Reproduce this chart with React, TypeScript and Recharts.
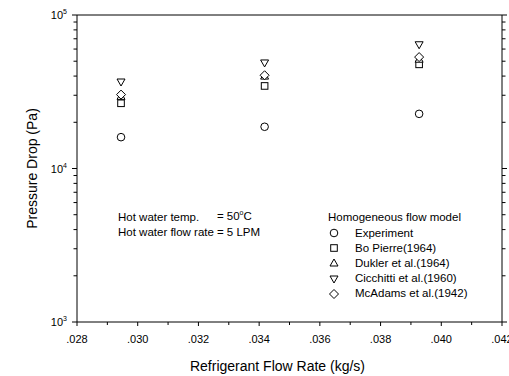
import React from 'react';
import { ScatterChart, Scatter, XAxis, YAxis, Legend, Label } from 'recharts';

const FONT = '"Liberation Sans", Arial, sans-serif';

// refrigerant flow rate (kg/s) and pressure drop (Pa) for each model
const flowRates = [0.02945, 0.03418, 0.03927];
const experiment = [16000, 18700, 22700];
const boPierre = [26600, 34500, 47700];
const dukler = [29500, 40000, 51500];
const cicchitti = [36600, 48700, 64000];
const mcAdams = [30300, 40500, 53200];

const seriesNames = ['Experiment', 'Bo Pierre(1964)', 'Dukler et al.(1964)', 'Cicchitti et al.(1960)', 'McAdams et al.(1942)'];
const markerKinds = ['circle', 'square', 'triangleUp', 'triangleDown', 'diamond'];

const xTicks = [0.028, 0.029, 0.03, 0.031, 0.032, 0.033, 0.034, 0.035, 0.036, 0.037, 0.038, 0.039, 0.04, 0.041, 0.042];
const yTicks = [1000, 2000, 3000, 4000, 5000, 6000, 7000, 8000, 9000, 10000, 20000, 30000, 40000, 50000, 60000, 70000, 80000, 90000, 100000];

const allSeries = [experiment, boPierre, dukler, cicchitti, mcAdams];
const toPoints = (vals: number[]) => flowRates.map((x, i) => ({ x, y: vals[i] }));

const marker = (kind: string, cx: number, cy: number) => {
    const common = { fill: '#fff', stroke: '#000', strokeWidth: 1 };
    switch (kind) {
        case 'circle':
            return <circle cx={cx} cy={cy} r={3.8} {...common} />;
        case 'square':
            return <rect x={cx - 3.3} y={cy - 3.3} width={6.6} height={6.6} {...common} />;
        case 'triangleUp':
            return <polygon points={`${cx},${cy - 4} ${cx + 4},${cy + 3} ${cx - 4},${cy + 3}`} {...common} />;
        case 'triangleDown':
            return <polygon points={`${cx - 4},${cy - 3} ${cx + 4},${cy - 3} ${cx},${cy + 4}`} {...common} />;
        default:
            return <polygon points={`${cx},${cy - 4.5} ${cx + 4.5},${cy} ${cx},${cy + 4.5} ${cx - 4.5},${cy}`} {...common} />;
    }
};

const isMajorX = (v: number) => Math.round(v * 1000) % 2 === 0;
const isMajorY = (v: number) => Math.abs(Math.log10(v) - Math.round(Math.log10(v))) < 1e-6;

const BottomTick = (props: any) => {
    const { x, y, payload } = props;
    const major = isMajorX(payload.value);
    return (
        <g>
            <line x1={x} y1={y} x2={x} y2={y + (major ? 4 : 3)} stroke="#000" />
            {major && (
                <text x={x} y={y + 20.5} textAnchor="middle" fontSize={11} fontFamily={FONT} fill="#000">
                    {payload.value.toFixed(3).replace(/^0/, '')}
                </text>
            )}
        </g>
    );
};

const TopTick = (props: any) => {
    const { x, y, payload } = props;
    const major = isMajorX(payload.value);
    return <line x1={x} y1={y} x2={x} y2={y - (major ? 4 : 3)} stroke="#000" />;
};

const LeftTick = (props: any) => {
    const { x, y, payload } = props;
    const major = isMajorY(payload.value);
    const exp = Math.round(Math.log10(payload.value));
    return (
        <g>
            <line x1={x - (major ? 5 : 3.5)} y1={y} x2={x} y2={y} stroke="#000" />
            {major && (
                <text x={x - 10} y={y + 4} textAnchor="end" fontSize={11} fontFamily={FONT} fill="#000">
                    10<tspan fontSize={7} dy={-5}>{exp}</tspan>
                </text>
            )}
        </g>
    );
};

const RightTick = (props: any) => {
    const { x, y, payload } = props;
    const major = isMajorY(payload.value);
    return <line x1={x} y1={y} x2={x + (major ? 5 : 3.5)} y2={y} stroke="#000" />;
};

const XTitle = (props: any) => {
    const vb = props.viewBox;
    return (
        <text x={vb.x + vb.width / 2 - 12} y={vb.y + 48.5} textAnchor="middle" fontSize={14} fontFamily={FONT} fill="#000">
            Refrigerant Flow Rate (kg/s)
        </text>
    );
};

const YTitle = (props: any) => {
    const vb = props.viewBox;
    const cx = vb.x + 32;
    const cy = vb.y + vb.height / 2;
    return (
        <text x={cx} y={cy} transform={`rotate(-90 ${cx} ${cy})`} textAnchor="middle" dominantBaseline="central" fontSize={14} fontFamily={FONT} fill="#000">
            Pressure Drop (Pa)
        </text>
    );
};

const LegendBox = (props: any) => {
    const items = [...(props.payload || [])].sort(
        (a: any, b: any) => seriesNames.indexOf(a.value) - seriesNames.indexOf(b.value)
    );
    return (
        <div style={{ fontFamily: FONT, fontSize: 11.5, color: '#000' }}>
            <div style={{ lineHeight: '15px', height: 15, marginBottom: 1, whiteSpace: 'nowrap' }}>Homogeneous flow model</div>
            {items.map((p: any) => {
                const idx = seriesNames.indexOf(p.value);
                return (
                    <div key={p.value} style={{ display: 'flex', alignItems: 'center', height: 15.2, whiteSpace: 'nowrap' }}>
                        <svg width={12} height={12} style={{ display: 'block' }}>{marker(markerKinds[idx], 6, 6)}</svg>
                        <span style={{ marginLeft: 15, lineHeight: '15.2px' }}>{p.value}</span>
                    </div>
                );
            })}
        </div>
    );
};

const App = () => {
    return (
        <div style={{ position: 'absolute', left: 0, top: 0, width: 509, height: 376, overflow: 'hidden', background: '#fff' }}>
            <ScatterChart width={509} height={376} margin={{ top: 0, right: 0, bottom: 0, left: 0 }}>
                <XAxis
                    xAxisId="bottom"
                    dataKey="x"
                    type="number"
                    domain={[0.028, 0.042]}
                    ticks={xTicks}
                    interval={0}
                    allowDataOverflow
                    height={54}
                    tickSize={0}
                    tickMargin={0}
                    tickLine={false}
                    axisLine={{ stroke: '#000' }}
                    tick={<BottomTick />}
                >
                    <Label content={<XTitle />} />
                </XAxis>
                <XAxis
                    xAxisId="top"
                    orientation="top"
                    type="number"
                    domain={[0.028, 0.042]}
                    ticks={xTicks}
                    interval={0}
                    allowDataOverflow
                    height={15}
                    tickSize={0}
                    tickMargin={0}
                    tickLine={false}
                    axisLine={{ stroke: '#000' }}
                    tick={<TopTick />}
                />
                <YAxis
                    yAxisId="left"
                    dataKey="y"
                    type="number"
                    scale="log"
                    domain={[1000, 100000]}
                    ticks={yTicks}
                    interval={0}
                    allowDataOverflow
                    width={77}
                    tickSize={0}
                    tickMargin={0}
                    tickLine={false}
                    axisLine={{ stroke: '#000' }}
                    tick={<LeftTick />}
                >
                    <Label content={<YTitle />} />
                </YAxis>
                <YAxis
                    yAxisId="right"
                    orientation="right"
                    type="number"
                    scale="log"
                    domain={[1000, 100000]}
                    ticks={yTicks}
                    interval={0}
                    allowDataOverflow
                    width={7}
                    tickSize={0}
                    tickMargin={0}
                    tickLine={false}
                    axisLine={{ stroke: '#000' }}
                    tick={<RightTick />}
                />
                <Legend
                    layout="vertical"
                    align="center"
                    verticalAlign="middle"
                    content={<LegendBox />}
                    wrapperStyle={{ left: 328, top: 209.5, width: 'auto' }}
                />
                {allSeries.map((vals, i) => (
                    <Scatter
                        key={seriesNames[i]}
                        name={seriesNames[i]}
                        data={toPoints(vals)}
                        xAxisId="bottom"
                        yAxisId="left"
                        fill="#fff"
                        stroke="#000"
                        isAnimationActive={false}
                        shape={(p: any) => marker(markerKinds[i], p.cx, p.cy)}
                    />
                ))}
            </ScatterChart>
            <div style={{ position: 'absolute', left: 118, top: 209, fontFamily: FONT, fontSize: 11.5, color: '#000', lineHeight: '14px' }}>
                <table style={{ borderCollapse: 'collapse', fontSize: 11.5, fontFamily: FONT }}>
                    <tbody>
                        <tr>
                            <td style={{ padding: 0, paddingRight: 3, whiteSpace: 'nowrap' }}>Hot water temp.</td>
                            <td style={{ padding: 0, whiteSpace: 'nowrap' }}>= 50<sup style={{ fontSize: 7, verticalAlign: 0, position: 'relative', top: -5 }}>o</sup>C</td>
                        </tr>
                        <tr>
                            <td style={{ padding: 0, paddingRight: 3, whiteSpace: 'nowrap' }}>Hot water flow rate</td>
                            <td style={{ padding: 0, whiteSpace: 'nowrap' }}>= 5 LPM</td>
                        </tr>
                    </tbody>
                </table>
            </div>
        </div>
    );
};

export default App;
